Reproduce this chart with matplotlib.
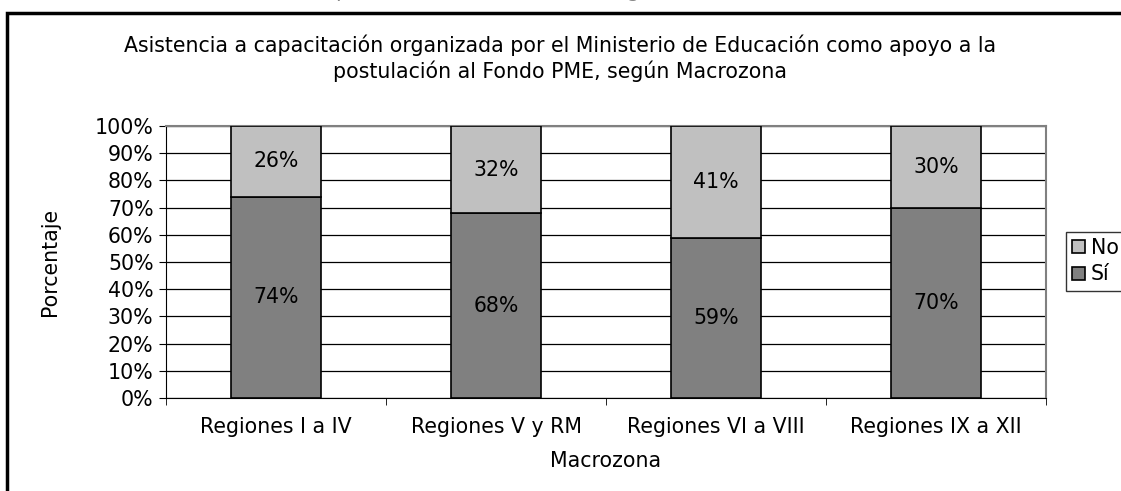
import matplotlib.pyplot as plt
from matplotlib.patches import Rectangle

plt.rcParams['font.family'] = ['DejaVu Sans']

# Data
categories = ['Regiones I a IV', 'Regiones V y RM', 'Regiones VI a VIII', 'Regiones IX a XII']
si_values = [74, 68, 59, 70]
no_values = [26, 32, 41, 30]

W, H = 1121, 491
FS = 14.8
fig = plt.figure(figsize=(W / 100, H / 100), dpi=100)

# outer chart frame (only left and top edges visible)
fig.patches.append(Rectangle((7 / W, -0.1), 1.2, 1.1 - 13 / H,
                             transform=fig.transFigure, fill=False,
                             edgecolor='black', linewidth=2.5))

# cut-off text of the chart above
fig.text(560 / W, 1 + 3 / H, 'postulación al Fondo PME según Macrozona',
         ha='center', va='baseline', fontsize=FS, color='#888888')

ax = fig.add_axes([166 / W, 1 - 398 / H, (1046 - 166) / W, (398 - 126) / H])

x = range(len(categories))
ax.bar(x, si_values, width=0.405, color='#808080', edgecolor='black',
       linewidth=1.2, label='Sí', zorder=3)
ax.bar(x, no_values, width=0.405, bottom=si_values, color='#C0C0C0',
       edgecolor='black', linewidth=1.2, label='No', zorder=3)

for i in x:
    ax.text(i, si_values[i] / 2, f'{si_values[i]}%', ha='center', va='center',
            fontsize=FS, zorder=4)
    ax.text(i, si_values[i] + no_values[i] / 2, f'{no_values[i]}%',
            ha='center', va='center', fontsize=FS, zorder=4)

ax.set_xlim(-0.5, 3.5)
ax.set_ylim(0, 100)
ax.set_yticks(range(0, 101, 10))
ax.set_yticklabels([f'{v}%' for v in range(0, 101, 10)], fontsize=FS)
ax.set_xticks(x)
ax.set_xticklabels(categories, fontsize=FS)
ax.tick_params(axis='x', length=0, pad=14)
ax.set_xticks([-0.5, 0.5, 1.5, 2.5, 3.5], minor=True)
ax.tick_params(axis='x', which='minor', length=5, direction='out', color='black')
ax.tick_params(axis='y', length=5, direction='out', color='black', pad=4)

ax.yaxis.grid(True, color='black', linewidth=0.9, zorder=0)
ax.set_axisbelow(True)
ax.spines['left'].set_color('black')
ax.spines['bottom'].set_color('black')
ax.spines['top'].set_color('#808080')
ax.spines['right'].set_color('#808080')
ax.spines['top'].set_linewidth(1.5)
ax.spines['right'].set_linewidth(1.5)

ax.set_ylabel('Porcentaje', fontsize=FS, labelpad=25)
ax.set_xlabel('Macrozona', fontsize=FS, labelpad=10)

fig.text(560 / W, 1 - 45 / H,
         'Asistencia a capacitación organizada por el Ministerio de Educación como apoyo a la',
         ha='center', va='center', fontsize=FS)
fig.text(560 / W, 1 - 71 / H, 'postulación al Fondo PME, según Macrozona',
         ha='center', va='center', fontsize=FS)

handles, labels = ax.get_legend_handles_labels()
leg = fig.legend(handles[::-1], labels[::-1], loc='upper left',
                 bbox_to_anchor=(1066 / W, 1 - 232 / H), fontsize=FS,
                 frameon=True, fancybox=False, edgecolor='black',
                 handlelength=0.6, handleheight=0.6, handletextpad=0.3,
                 borderpad=0.3, labelspacing=0.3, borderaxespad=0)
leg.get_frame().set_linewidth(1.0)

fig.savefig('out.png', dpi=100)
